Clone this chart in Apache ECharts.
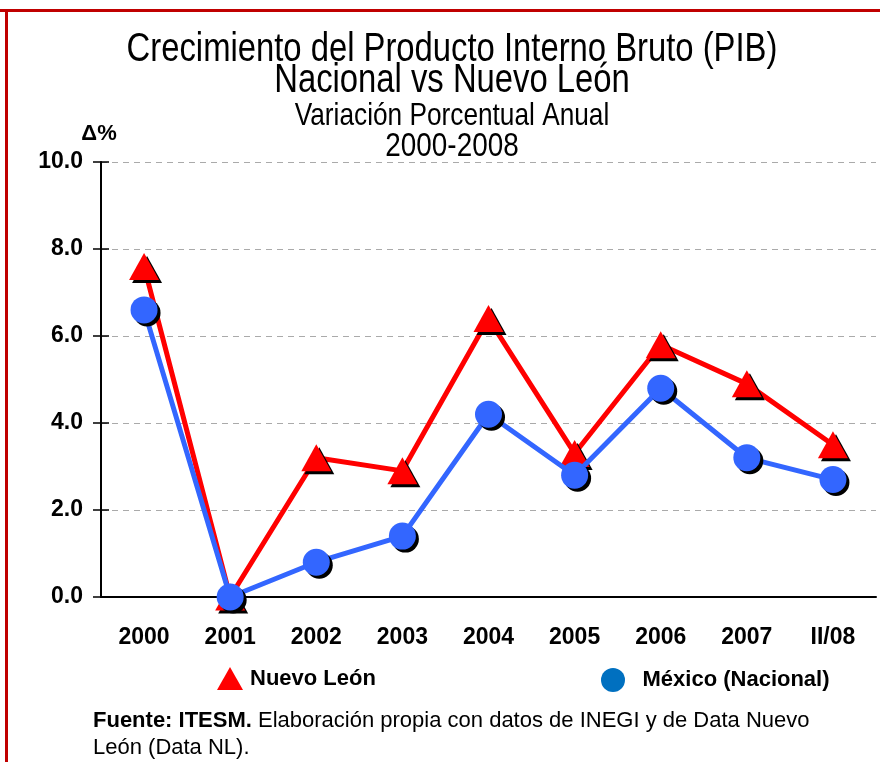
<!DOCTYPE html>
<html>
<head>
<meta charset="utf-8">
<script src="https://cdn.jsdelivr.net/npm/echarts@6/dist/echarts.min.js"></script>
<style>
  html, body { margin: 0; padding: 0; background: #fff; }
  #chart { width: 880px; height: 762px; }
</style>
</head>
<body>
<div id="chart"></div>
<script>
// categorias y valores (variacion % anual del PIB)
var years = ['2000', '2001', '2002', '2003', '2004', '2005', '2006', '2007', 'II/08']
var nuevoLeon = [7.6, 0.0, 3.2, 2.9, 6.4, 3.3, 5.8, 4.9, 3.5]
var mexico = [6.6, 0.0, 0.8, 1.4, 4.2, 2.8, 4.8, 3.2, 2.7]
var yTicks = { min: 0, max: 10, interval: 2 }
var titleLines = [
  'Crecimiento del Producto Interno Bruto (PIB)',
  'Nacional vs Nuevo León',
  'Variación Porcentual Anual',
  '2000-2008'
]

var arial = '"Liberation Sans", Arial, sans-serif'
var shadow = { shadowColor: '#000', shadowBlur: 0, shadowOffsetX: 3, shadowOffsetY: 3 }
var noShadow = { shadowColor: 'rgba(0,0,0,0)', shadowBlur: 0, shadowOffsetX: 0, shadowOffsetY: 0 }

// texto "narrow": Arial comprimido en horizontal
function narrowText (text, y, size) {
  return {
    type: 'text',
    x: 452,
    y: y,
    scaleX: 0.82,
    silent: true,
    style: {
      text: text,
      x: 0,
      y: 0,
      align: 'center',
      verticalAlign: 'middle',
      font: 'normal ' + size + 'px ' + arial,
      fill: '#000'
    }
  }
}

var chart = echarts.init(document.getElementById('chart'))
chart.setOption({
  backgroundColor: '#fff',
  animation: false,
  title: {
    text: '{b|Fuente: ITESM.} Elaboración propia con datos de INEGI y de Data Nuevo\nLeón (Data NL).',
    left: 93,
    top: 707,
    padding: 0,
    textStyle: {
      fontFamily: arial,
      fontSize: 22,
      fontWeight: 'normal',
      color: '#000',
      lineHeight: 27,
      rich: { b: { fontFamily: arial, fontSize: 22, fontWeight: 'bold', color: '#000', lineHeight: 27 } }
    }
  },
  legend: [
    {
      data: [{ name: 'Nuevo León', icon: 'triangle', itemStyle: Object.assign({ color: '#ff0000' }, noShadow) }],
      left: 217,
      top: 667,
      padding: 0,
      itemWidth: 26,
      itemHeight: 23,
      symbolKeepAspect: false,
      textStyle: { fontFamily: arial, fontSize: 22, fontWeight: 'bold', color: '#000', padding: [0, 0, 0, 2] }
    },
    {
      data: [{ name: 'México (Nacional)', icon: 'circle', itemStyle: Object.assign({ color: '#0070c0' }, noShadow) }],
      left: 601,
      top: 668,
      padding: 0,
      itemWidth: 25,
      itemHeight: 24,
      textStyle: { fontFamily: arial, fontSize: 22, fontWeight: 'bold', color: '#000', padding: [0, 0, 0, 12] }
    }
  ],
  grid: {
    left: 101,
    right: 4,
    top: 162,
    bottom: 165
  },
  xAxis: [
    {
      type: 'category',
      data: years,
      boundaryGap: true,
      axisLine: { lineStyle: { color: '#000', width: 2 } },
      axisTick: { length: 8, lineStyle: { color: '#000', width: 1.5 } },
      axisLabel: { margin: 29, fontFamily: arial, fontSize: 23, fontWeight: 'bold', color: '#000' }
    },
    {
      type: 'category',
      data: years,
      position: 'bottom',
      boundaryGap: true,
      axisLine: { show: false },
      axisTick: { inside: true, length: 8, lineStyle: { color: '#000', width: 1.5 } },
      axisLabel: { show: false }
    }
  ],
  yAxis: [
    {
      type: 'value',
      min: yTicks.min,
      max: yTicks.max,
      interval: yTicks.interval,
      name: 'Δ%',
      nameLocation: 'end',
      nameGap: 17,
      nameTextStyle: { fontFamily: arial, fontSize: 22, fontWeight: 'bold', color: '#000', padding: [0, 4, 0, 0] },
      axisLine: { show: true, lineStyle: { color: '#000', width: 2 } },
      axisTick: { show: true, length: 8, lineStyle: { color: '#000', width: 1.5 } },
      axisLabel: {
        margin: 18,
        fontFamily: arial,
        fontSize: 23,
        fontWeight: 'bold',
        color: '#000',
        formatter: function (v) { return v.toFixed(1) }
      },
      splitLine: { show: true, lineStyle: { color: '#aaa', type: [6, 5], width: 1 } }
    },
    {
      type: 'value',
      min: yTicks.min,
      max: yTicks.max,
      interval: yTicks.interval,
      position: 'left',
      axisLine: { show: false },
      axisTick: { show: true, inside: true, length: 8, lineStyle: { color: '#000', width: 1.5 } },
      axisLabel: { show: false },
      splitLine: { show: false }
    }
  ],
  series: [
    {
      name: 'Nuevo León',
      type: 'line',
      data: nuevoLeon,
      symbol: 'triangle',
      symbolSize: [30, 27],
      lineStyle: { color: '#ff0000', width: 5 },
      itemStyle: Object.assign({ color: '#ff0000', opacity: 1 }, shadow),
      z: 3
    },
    {
      name: 'México (Nacional)',
      type: 'line',
      data: mexico,
      symbol: 'circle',
      symbolSize: 27,
      lineStyle: { color: '#3366ff', width: 5 },
      itemStyle: Object.assign({ color: '#3366ff', opacity: 1 }, shadow),
      z: 4
    }
  ],
  graphic: [
    { type: 'rect', shape: { x: 0, y: 9, width: 880, height: 3 }, style: { fill: '#c00000' }, silent: true },
    { type: 'rect', shape: { x: 5, y: 9, width: 3, height: 753 }, style: { fill: '#c00000' }, silent: true },
    narrowText(titleLines[0], 50, 40),
    narrowText(titleLines[1], 81, 40),
    narrowText(titleLines[2], 116, 32),
    narrowText(titleLines[3], 147, 34)
  ]
})
</script>
</body>
</html>
